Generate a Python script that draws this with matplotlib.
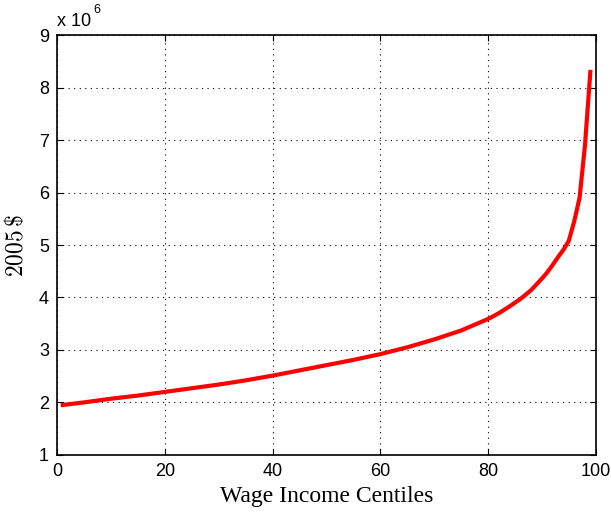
import matplotlib
matplotlib.use('Agg')
import matplotlib.pyplot as plt

plt.rcParams['mathtext.fontset'] = 'cm'

# wage income by centile, in millions of 2005 dollars
centiles = [1, 5, 10, 15, 20, 25, 30, 35, 40, 45, 50, 55, 60, 65, 70, 75, 80,
            82, 84, 86, 88, 90, 91, 92, 93, 94, 95, 96, 97, 98, 99]
wealth = [1.95, 2.00, 2.07, 2.13, 2.20, 2.27, 2.34, 2.42, 2.51, 2.61, 2.71,
          2.81, 2.92, 3.05, 3.20, 3.37, 3.59, 3.70, 3.83, 3.97, 4.14, 4.36,
          4.48, 4.62, 4.77, 4.91, 5.08, 5.45, 5.90, 6.90, 8.30]
xticks = [0, 20, 40, 60, 80, 100]
yticks = [1, 2, 3, 4, 5, 6, 7, 8, 9]

fig = plt.figure(figsize=(6.11, 5.18), dpi=100)
ax = fig.add_axes([0.094, 0.122, 0.881, 0.81])

ax.plot(centiles, wealth, color='red', linewidth=3)

ax.set_xlim(0, 100)
ax.set_ylim(1, 9)
ax.set_xticks(xticks)
ax.set_yticks(yticks)
ax.tick_params(direction='in', top=True, right=True, length=4, width=0.8,
               labelsize=13, pad=6)
for lab in ax.get_xticklabels() + ax.get_yticklabels():
    lab.set_fontfamily('Liberation Sans')
for sp in ax.spines.values():
    sp.set_linewidth(1.2)

ax.grid(True, color='black', linestyle=(0, (1, 4)), linewidth=0.8)

# MATLAB-style exponent label
ax.text(0.0, 1.012, 'x 10', transform=ax.transAxes, fontsize=13,
        fontfamily='Liberation Sans', ha='left', va='bottom')
ax.text(0.066, 1.045, '6', transform=ax.transAxes, fontsize=9,
        fontfamily='Liberation Sans', ha='left', va='bottom')

ax.set_xlabel('Wage Income Centiles', fontsize=17, fontfamily='Liberation Serif',
              labelpad=4)
ax.set_ylabel(r'$2005\,\$$', fontsize=17, labelpad=8)

fig.savefig('out.png', dpi=100)
